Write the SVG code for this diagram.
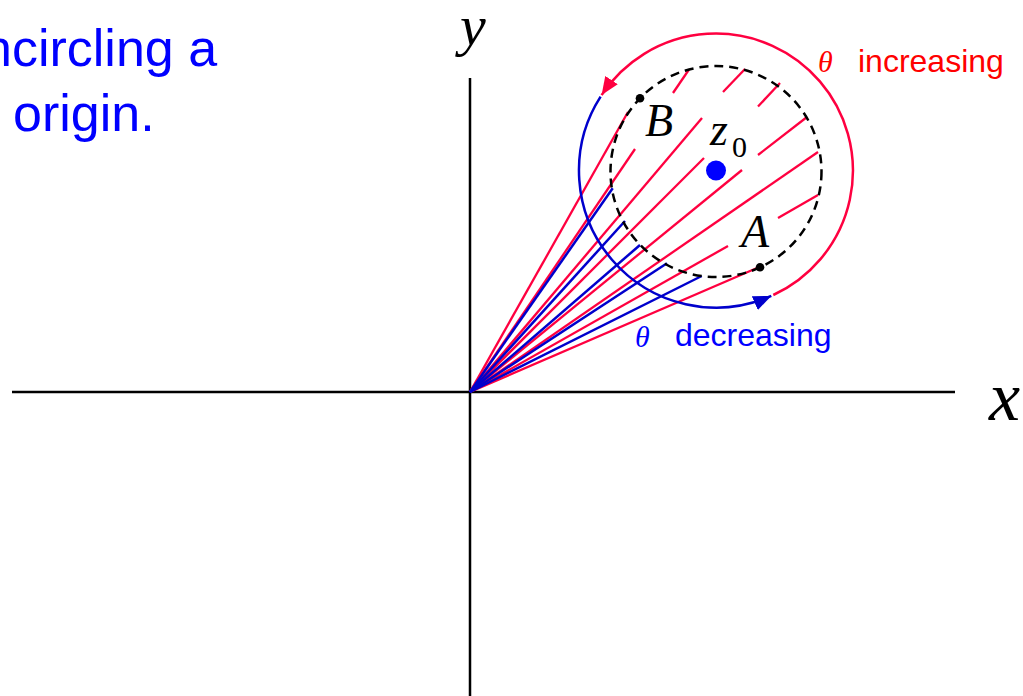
<svg xmlns="http://www.w3.org/2000/svg" width="1023" height="696" viewBox="0 0 1023 696">
<style>
.axis{stroke:#000;stroke-width:2.5;fill:none}
.ray-r{stroke:#FF0040;stroke-width:2.3;fill:none}
.ray-b{stroke:#0000CC;stroke-width:2.5;fill:none}
.arc-r{stroke:#FF0040;stroke-width:2.5;fill:none}
.arc-b{stroke:#0000CC;stroke-width:2.5;fill:none}
.contour{stroke:#000;stroke-width:2.5;fill:none;stroke-dasharray:9 6}
.math{font-family:"Liberation Serif","Times New Roman",serif;font-style:italic;fill:#000}
.num{font-family:"Liberation Serif","Times New Roman",serif;font-style:normal;fill:#000}
.sans{font-family:"Liberation Sans",Arial,sans-serif}
</style>
<defs>
<marker id="ah-red" markerUnits="userSpaceOnUse" markerWidth="18" markerHeight="15" viewBox="0 0 18 15" refX="18" refY="7.5" orient="auto"><path d="M0,0 L18,7.5 L0,15 z" fill="#FF0040"/></marker>
<marker id="ah-blue" markerUnits="userSpaceOnUse" markerWidth="18" markerHeight="15" viewBox="0 0 18 15" refX="18" refY="7.5" orient="auto"><path d="M0,0 L18,7.5 L0,15 z" fill="#0000CC"/></marker>
</defs>
<rect width="1023" height="696" fill="#fff"/>
<g id="axes">
<line class="axis" x1="12" y1="392" x2="955" y2="392"/>
<line class="axis" x1="470" y1="78" x2="470" y2="696"/>
</g>
<g id="connectors">
<g id="rays-red">
<line class="ray-r" x1="470" y1="392" x2="628" y2="112"/>
<line class="ray-r" x1="470" y1="392" x2="635" y2="149"/>
<line class="ray-r" x1="673" y1="93" x2="689" y2="69.5"/>
<line class="ray-r" x1="470" y1="392" x2="702" y2="118"/>
<line class="ray-r" x1="723" y1="92" x2="745" y2="69"/>
<line class="ray-r" x1="470" y1="392" x2="704" y2="158"/>
<line class="ray-r" x1="758" y1="106.5" x2="780" y2="83"/>
<line class="ray-r" x1="470" y1="392" x2="742" y2="170"/>
<line class="ray-r" x1="758" y1="155" x2="807" y2="117"/>
<line class="ray-r" x1="470" y1="392" x2="818" y2="152"/>
<line class="ray-r" x1="470" y1="392" x2="728" y2="246"/>
<line class="ray-r" x1="778" y1="218" x2="818" y2="195"/>
<line class="ray-r" x1="470" y1="392" x2="757" y2="268"/>
</g>
<g id="rays-blue">
<line class="ray-b" x1="470" y1="392" x2="612.7" y2="188.3"/>
<line class="ray-b" x1="470" y1="392" x2="625" y2="221"/>
<line class="ray-b" x1="470" y1="392" x2="640" y2="245"/>
<line class="ray-b" x1="470" y1="392" x2="667" y2="263.3"/>
<line class="ray-b" x1="470" y1="392" x2="701.7" y2="276"/>
</g>
<path id="arc-increasing" class="arc-r" d="M773.3,295 A137,137 0 1 0 601.6,95.1" marker-end="url(#ah-red)"/>
<path id="arc-decreasing" class="arc-b" d="M600.6,96.7 A137,137 0 0 0 771.3,295.9" marker-end="url(#ah-blue)"/>
</g>
<g id="contour-circle">
<circle class="contour" cx="716" cy="171.5" r="105.5"/>
</g>
<g id="point-z0">
<circle cx="716" cy="170.5" r="10" fill="#0000FF"/>
<text class="math" x="710" y="145" font-size="46">z</text>
<text class="num" x="732" y="157" font-size="30">0</text>
</g>
<g id="point-A">
<circle cx="760" cy="267.3" r="4.3" fill="#000"/>
<text class="math" x="741" y="247" font-size="46">A</text>
</g>
<g id="point-B">
<circle cx="640" cy="98.3" r="4.3" fill="#000"/>
<text class="math" x="645" y="135.5" font-size="46">B</text>
</g>
<g id="axis-labels">
<text class="math" x="460" y="45" font-size="58">y</text>
<text class="math" x="989" y="420" font-size="70">x</text>
</g>
<g id="annotations">
<text class="sans" x="-17" y="65.5" font-size="52" fill="#0000FF">ncircling a</text>
<text class="sans" x="13" y="131" font-size="52" fill="#0000FF">origin.</text>
<text class="math" x="818" y="71.5" font-size="30" style="fill:#FF0000">θ</text>
<text class="sans" x="858" y="71.5" font-size="32" fill="#FF0000">increasing</text>
<text class="math" x="635" y="346.5" font-size="30" style="fill:#0000FF">θ</text>
<text class="sans" x="675" y="345.5" font-size="32" fill="#0000FF">decreasing</text>
</g>
</svg>
